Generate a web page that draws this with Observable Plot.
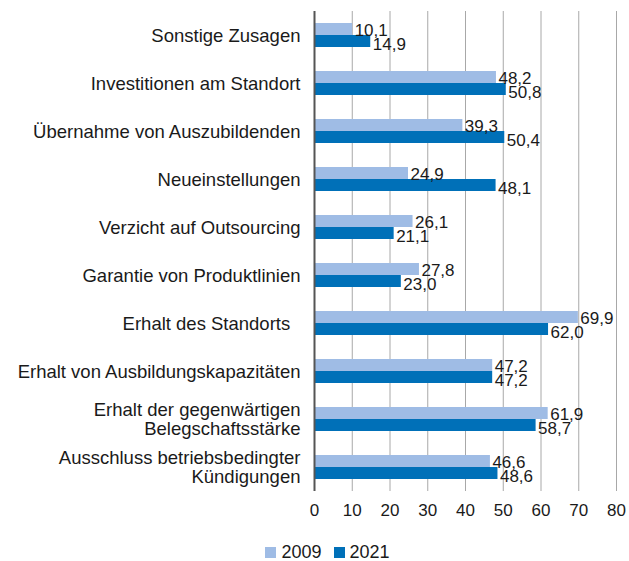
<!DOCTYPE html>
<html>
<head>
<meta charset="utf-8">
<script src="https://cdn.jsdelivr.net/npm/d3@7"></script>
<script src="https://cdn.jsdelivr.net/npm/@observablehq/plot@0.6"></script>
<style>
  html, body { margin: 0; padding: 0; background: #fff; }
  body { width: 629px; height: 561px; overflow: hidden; font-family: "Liberation Sans", Arial, Helvetica, sans-serif; color: #1a1a1a; }
  #legend { display: flex; justify-content: center; align-items: center; gap: 12px; margin-top: 12px; padding-left: 26px; font-size: 18px; line-height: 20px; }
  #legend .item { display: flex; align-items: center; gap: 5px; }
  #legend .sw { width: 11px; height: 11px; display: inline-block; }
</style>
</head>
<body>
<div id="chart"></div>
<script>
const categories = [
  "Sonstige Zusagen",
  "Investitionen am Standort",
  "Übernahme von Auszubildenden",
  "Neueinstellungen",
  "Verzicht auf Outsourcing",
  "Garantie von Produktlinien",
  "Erhalt des Standorts\u00a0\u00a0",
  "Erhalt von Ausbildungskapazitäten",
  "Erhalt der gegenwärtigen\nBelegschaftsstärke",
  "Ausschluss betriebsbedingter\nKündigungen"
];
const values2009 = [10.1, 48.2, 39.3, 24.9, 26.1, 27.8, 69.9, 47.2, 61.9, 46.6];
const values2021 = [14.9, 50.8, 50.4, 48.1, 21.1, 23.0, 62.0, 47.2, 58.7, 48.6];
const xTicks = [0, 10, 20, 30, 40, 50, 60, 70, 80];
const seriesNames = ["2009", "2021"];
const seriesColors = ["#9fbce5", "#0070b8"];

const d09 = categories.map((c, i) => ({category: c, value: values2009[i]}));
const d21 = categories.map((c, i) => ({category: c, value: values2021[i]}));
const fmt = v => v.toFixed(1).replace(".", ",");

const chart = Plot.plot({
  width: 629,
  height: 530,
  marginLeft: 314,
  marginRight: 13,
  marginTop: 11,
  marginBottom: 39,
  style: {fontFamily: '"Liberation Sans", Arial, Helvetica, sans-serif', fontSize: "17px", color: "#1a1a1a", background: "#fff"},
  x: {domain: [0, 80], ticks: xTicks},
  y: {domain: categories, paddingInner: 0.5, paddingOuter: 0.25},
  marks: [
    Plot.gridX(xTicks, {stroke: "#a8a8a8", strokeOpacity: 1, strokeWidth: 1}),
    Plot.barX(d09, {y: "category", x: "value", fill: seriesColors[0], insetBottom: 12}),
    Plot.barX(d21, {y: "category", x: "value", fill: seriesColors[1], insetTop: 12}),
    Plot.ruleX([0], {stroke: "#555", strokeWidth: 2}),
    Plot.text(d09, {y: "category", x: "value", text: d => fmt(d.value), textAnchor: "start", dx: 2, dy: -5, fill: "#1a1a1a", fontSize: 17}),
    Plot.text(d21, {y: "category", x: "value", text: d => fmt(d.value), textAnchor: "start", dx: 2, dy: 9, fill: "#1a1a1a", fontSize: 17}),
    Plot.axisX({ticks: xTicks, tickSize: 0, tickPadding: 12, label: null, fontSize: 17}),
    Plot.axisY({tickSize: 0, tickPadding: 14, label: null, fontSize: 18.5, lineHeight: 1.05})
  ]
});
document.getElementById("chart").appendChild(chart);

const legend = document.createElement("div");
legend.id = "legend";
seriesNames.forEach((name, i) => {
  const item = document.createElement("span");
  item.className = "item";
  const sw = document.createElement("span");
  sw.className = "sw";
  sw.style.background = seriesColors[i];
  const label = document.createElement("span");
  label.textContent = name;
  item.appendChild(sw);
  item.appendChild(label);
  legend.appendChild(item);
});
document.body.appendChild(legend);
</script>
</body>
</html>
